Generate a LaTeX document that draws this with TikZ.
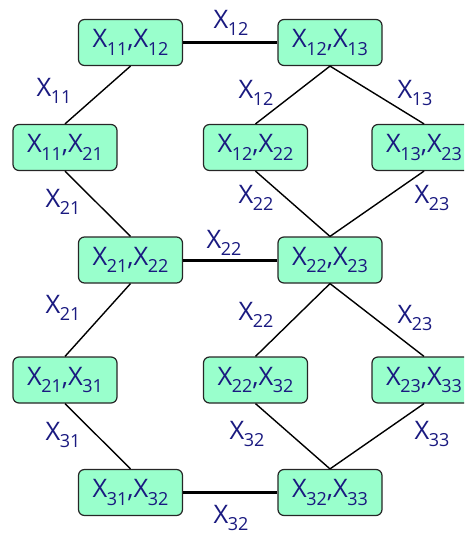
\documentclass[tikz,border=0pt]{standalone}
\usepackage{fontspec}
\setmainfont{Open Sans}
\definecolor{nodefill}{HTML}{99FFCC}
\definecolor{txtcol}{HTML}{1A1A80}
\newcommand\xs[1]{X\kern-0.5pt\raisebox{-0.3em}{\fontsize{18}{18}\selectfont #1}}
\tikzset{
  state/.style={rectangle, rounded corners=6pt, draw=black!85, line width=1.2pt,
    fill=nodefill, minimum width=104pt, minimum height=46pt, inner sep=0pt,
    text=txtcol, font=\fontsize{25.5}{25.5}\selectfont},
  lbl/.style={text=txtcol, inner sep=0pt, font=\fontsize{25.5}{25.5}\selectfont},
  thin edge/.style={draw=black, line width=1.4pt},
  thick edge/.style={draw=black, line width=3pt}
}
\begin{document}
\begin{tikzpicture}[x=1pt,y=-1pt]
\clip (0,0) rectangle (464,536);
\node[state] (A) at (130.5,42.5) {\xs{11},\xs{12}};
\node[state] (B) at (330,42.5) {\xs{12},\xs{13}};
\node[state] (C) at (65,147.5) {\xs{11},\xs{21}};
\node[state] (D) at (255.5,147.5) {\xs{12},\xs{22}};
\node[state] (E) at (424,147.5) {\xs{13},\xs{23}};
\node[state] (F) at (130.5,260) {\xs{21},\xs{22}};
\node[state] (G) at (330,260) {\xs{22},\xs{23}};
\node[state] (H) at (65,380) {\xs{21},\xs{31}};
\node[state] (I) at (255.5,380) {\xs{22},\xs{32}};
\node[state] (J) at (424,380) {\xs{23},\xs{33}};
\node[state] (K) at (130.5,492.5) {\xs{31},\xs{32}};
\node[state] (L) at (330,492.5) {\xs{32},\xs{33}};

\draw[thick edge] (A.east) -- (B.west);
\draw[thick edge] (F.east) -- (G.west);
\draw[thick edge] (K.east) -- (L.west);
\draw[thin edge] (A.south) -- (C.north);
\draw[thin edge] (B.south) -- (D.north);
\draw[thin edge] (B.south) -- (E.north);
\draw[thin edge] (C.south) -- (F.north);
\draw[thin edge] (D.south) -- (G.north);
\draw[thin edge] (E.south) -- (G.north);
\draw[thin edge] (F.south) -- (H.north);
\draw[thin edge] (G.south) -- (I.north);
\draw[thin edge] (G.south) -- (J.north);
\draw[thin edge] (H.south) -- (K.north);
\draw[thin edge] (I.south) -- (L.north);
\draw[thin edge] (J.south) -- (L.north);

\node[lbl] (l1) at (231,23) {\xs{12}};
\node[lbl] (l2) at (54,91) {\xs{11}};
\node[lbl] (l3) at (256,93) {\xs{12}};
\node[lbl] (l4) at (415,93) {\xs{13}};
\node[lbl] (l5) at (63,202) {\xs{21}};
\node[lbl] (l6) at (256,198) {\xs{22}};
\node[lbl] (l7) at (432,198) {\xs{23}};
\node[lbl] (l8) at (224,243) {\xs{22}};
\node[lbl] (l9) at (63,308) {\xs{21}};
\node[lbl] (l10) at (256,315) {\xs{22}};
\node[lbl] (l11) at (415,318) {\xs{23}};
\node[lbl] (l12) at (63,435) {\xs{31}};
\node[lbl] (l13) at (247,434) {\xs{32}};
\node[lbl] (l14) at (432,434) {\xs{33}};
\node[lbl] (l15) at (231,518) {\xs{32}};
\end{tikzpicture}
\end{document}
